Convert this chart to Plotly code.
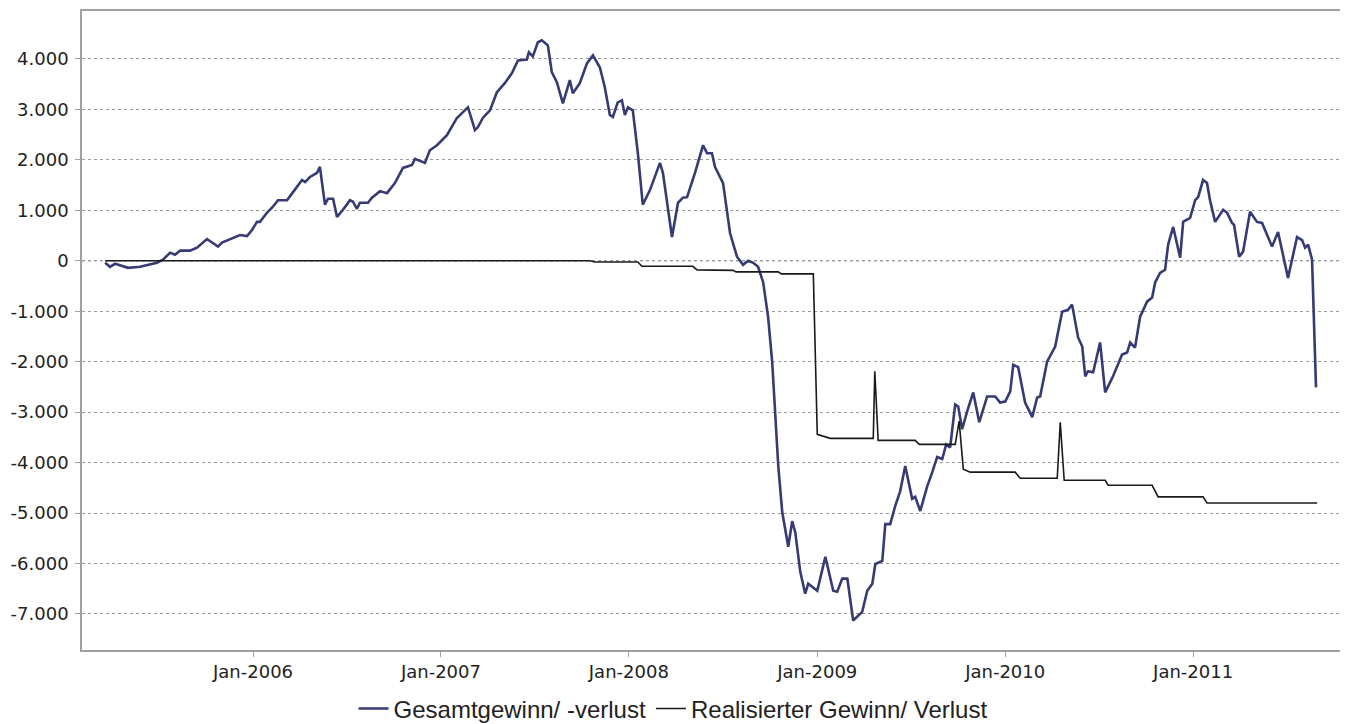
import pandas as pd
import plotly.graph_objects as go

# ---- data (time as decimal years, values in EUR) ----
gesamt_t = [2005.213, 2005.239, 2005.266, 2005.335, 2005.399, 2005.441, 2005.489, 2005.521,
            2005.559, 2005.585, 2005.612, 2005.665, 2005.702, 2005.755, 2005.814, 2005.835,
            2005.894, 2005.931, 2005.968, 2005.995, 2006.021, 2006.037, 2006.074, 2006.106,
            2006.133, 2006.181, 2006.213, 2006.261, 2006.277, 2006.303, 2006.340, 2006.356,
            2006.383, 2006.399, 2006.426, 2006.447, 2006.479, 2006.516, 2006.532, 2006.553,
            2006.569, 2006.612, 2006.633, 2006.660, 2006.676, 2006.713, 2006.755, 2006.798,
            2006.846, 2006.862, 2006.915, 2006.941, 2006.979, 2007.032, 2007.085, 2007.138,
            2007.144, 2007.181, 2007.197, 2007.223, 2007.261, 2007.298, 2007.340, 2007.378,
            2007.410, 2007.457, 2007.468, 2007.489, 2007.516, 2007.537, 2007.569, 2007.590,
            2007.617, 2007.649, 2007.686, 2007.702, 2007.739, 2007.777, 2007.809, 2007.846,
            2007.872, 2007.899, 2007.915, 2007.941, 2007.963, 2007.979, 2007.995, 2008.021,
            2008.048, 2008.074, 2008.112, 2008.165, 2008.181, 2008.229, 2008.261, 2008.287,
            2008.309, 2008.351, 2008.394, 2008.415, 2008.441, 2008.457, 2008.484, 2008.500,
            2008.537, 2008.574, 2008.606, 2008.633, 2008.660, 2008.686, 2008.713, 2008.739,
            2008.761, 2008.777, 2008.793, 2008.814, 2008.846, 2008.867, 2008.883, 2008.910,
            2008.936, 2008.952, 2009.000, 2009.043, 2009.085, 2009.106, 2009.133, 2009.160,
            2009.191, 2009.239, 2009.266, 2009.293, 2009.309, 2009.346, 2009.362, 2009.388,
            2009.415, 2009.441, 2009.468, 2009.505, 2009.521, 2009.548, 2009.585, 2009.612,
            2009.638, 2009.665, 2009.686, 2009.707, 2009.734, 2009.750, 2009.771, 2009.798,
            2009.830, 2009.862, 2009.904, 2009.947, 2009.973, 2010.000, 2010.027, 2010.043,
            2010.069, 2010.106, 2010.144, 2010.170, 2010.186, 2010.223, 2010.266, 2010.303,
            2010.335, 2010.356, 2010.388, 2010.410, 2010.426, 2010.441, 2010.468, 2010.505,
            2010.532, 2010.574, 2010.622, 2010.649, 2010.665, 2010.691, 2010.718, 2010.755,
            2010.782, 2010.798, 2010.824, 2010.851, 2010.867, 2010.894, 2010.931, 2010.947,
            2010.984, 2011.011, 2011.027, 2011.053, 2011.074, 2011.090, 2011.117, 2011.160,
            2011.181, 2011.207, 2011.218, 2011.245, 2011.266, 2011.303, 2011.340, 2011.367,
            2011.420, 2011.452, 2011.505, 2011.553, 2011.580, 2011.596, 2011.612, 2011.633,
            2011.654]
gesamt_v = [-40, -120, -60, -140, -120, -80, -40, 20,
            160, 120, 200, 200, 260, 430, 280, 360,
            450, 510, 490, 610, 770, 770, 950, 1070,
            1200, 1200, 1360, 1600, 1560, 1660, 1740, 1860,
            1110, 1230, 1230, 870, 1010, 1200, 1170, 1030,
            1150, 1150, 1250, 1340, 1380, 1340, 1540, 1840,
            1900, 2020, 1940, 2190, 2290, 2490, 2830, 3020,
            3040, 2590, 2650, 2830, 2980, 3340, 3520, 3720,
            3970, 3990, 4130, 4050, 4330, 4370, 4270, 3740,
            3540, 3120, 3580, 3320, 3520, 3910, 4070, 3830,
            3440, 2890, 2850, 3140, 3180, 2890, 3040, 2980,
            2130, 1110, 1400, 1940, 1740, 470, 1150, 1250,
            1260, 1740, 2290, 2130, 2130, 1860, 1660, 1540,
            550, 80, -80, 0, -40, -120, -430, -1110,
            -2020, -3000, -4070, -4980, -5670, -5160, -5380, -6170,
            -6600, -6400, -6540, -5870, -6540, -6560, -6300, -6300,
            -7130, -6960, -6540, -6400, -6010, -5950, -5220, -5220,
            -4860, -4570, -4070, -4720, -4680, -4960, -4470, -4190,
            -3890, -3930, -3640, -3700, -2850, -2890, -3340, -2980,
            -2610, -3200, -2690, -2690, -2810, -2790, -2590, -2060,
            -2110, -2810, -3100, -2710, -2690, -2000, -1700, -1010,
            -970, -870, -1520, -1700, -2290, -2190, -2210, -1620,
            -2610, -2290, -1860, -1820, -1620, -1720, -1110, -810,
            -730, -430, -240, -180, 320, 670, 60, 770,
            850, 1200, 1260, 1600, 1540, 1200, 770, 1010,
            950, 750, 710, 80, 180, 970, 770, 750,
            280, 570, -340, 470, 410, 260, 320, 20,
            -2510]

realisiert_t = [2005.213, 2007.793, 2007.819, 2008.048, 2008.069, 2008.340, 2008.362, 2008.553,
                2008.569, 2008.793, 2008.809, 2008.979, 2009.000, 2009.027, 2009.069, 2009.298,
                2009.306, 2009.324, 2009.521, 2009.543, 2009.734, 2009.755, 2009.777, 2009.814,
                2010.053, 2010.080, 2010.277, 2010.293, 2010.314, 2010.532, 2010.548, 2010.782,
                2010.814, 2011.053, 2011.074, 2011.660]
realisiert_v = [0, 0, -25, -25, -110, -110, -180, -190,
                -220, -220, -260, -260, -3440, -3470, -3520, -3520,
                -2190, -3560, -3560, -3640, -3640, -3180, -4130, -4190,
                -4190, -4310, -4310, -3200, -4350, -4350, -4450, -4450,
                -4680, -4680, -4800, -4800]

y_tickvals = [-7000, -6000, -5000, -4000, -3000, -2000, -1000, 0, 1000, 2000, 3000, 4000]
y_ticktext = ["-7.000", "-6.000", "-5.000", "-4.000", "-3.000", "-2.000", "-1.000", "0",
              "1.000", "2.000", "3.000", "4.000"]
x_tickyears = [2006, 2007, 2008, 2009, 2010, 2011]
x_ticktext = ["Jan-2006", "Jan-2007", "Jan-2008", "Jan-2009", "Jan-2010", "Jan-2011"]

names = ["Gesamtgewinn/ -verlust", "Realisierter Gewinn/ Verlust"]


def to_date(t):
    y = int(t)
    start = pd.Timestamp(year=y, month=1, day=1)
    end = pd.Timestamp(year=y + 1, month=1, day=1)
    return start + (end - start) * (t - y)


gx = [to_date(t) for t in gesamt_t]
rx = [to_date(t) for t in realisiert_t]

grid_col = "#9a9a9a"
axis_col = "#a0a0a0"
tick_font = "DejaVu Sans"
legend_font = "Liberation Sans"

fig = go.Figure()
fig.add_trace(go.Scatter(x=gx, y=gesamt_v, mode="lines", name=names[0],
                         line=dict(color="#363b74", width=2.6)))
fig.add_trace(go.Scatter(x=rx, y=realisiert_v, mode="lines", name=names[1],
                         line=dict(color="#1a1a1a", width=1.6)))

# darker dashed zero line
fig.add_shape(type="line", xref="paper", x0=0, x1=1, yref="y", y0=0, y1=0,
              line=dict(color="#4a4f88", width=1.2, dash="3px,3px"), layer="below")

fig.update_layout(
    width=1340, height=716,
    margin=dict(l=74, r=7, t=3, b=74, autoexpand=False),
    paper_bgcolor="white", plot_bgcolor="white",
    font=dict(family=tick_font, color="#222222"),
    showlegend=True,
    legend=dict(orientation="h", xref="container", yref="container",
                x=0.4963, xanchor="center", y=0.021, yanchor="middle",
                font=dict(size=24, family=legend_font, color="#222222"),
                itemwidth=30, bgcolor="rgba(0,0,0,0)"),
    xaxis=dict(
        type="date", automargin=False,
        range=[to_date(2005.090), to_date(2011.787)],
        tickvals=[to_date(float(y)) for y in x_tickyears],
        ticktext=x_ticktext,
        ticks="outside", ticklen=5, tickcolor=axis_col,
        tickfont=dict(size=18, family=tick_font, color="#222222"),
        showgrid=False, zeroline=False,
        showline=True, linecolor=axis_col, linewidth=1.5, mirror=True,
    ),
    yaxis=dict(
        automargin=False,
        range=[-7715, 4950],
        tickvals=y_tickvals, ticktext=y_ticktext,
        ticks="outside", ticklen=5, tickcolor=axis_col,
        tickfont=dict(size=18, family=tick_font, color="#222222"),
        ticklabelstandoff=3,
        showgrid=True, gridcolor=grid_col, griddash="3px,3px", gridwidth=1,
        zeroline=False,
        showline=True, linecolor=axis_col, linewidth=1.5, mirror=True,
    ),
)

fig.write_html("out.html")
